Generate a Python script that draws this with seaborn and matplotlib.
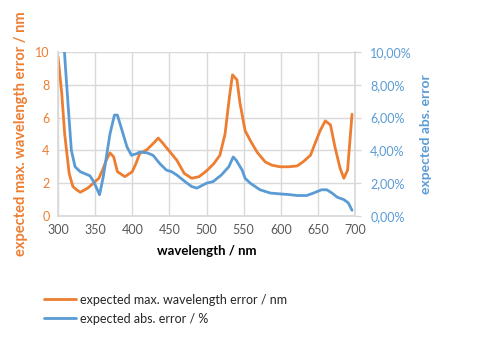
import matplotlib
matplotlib.use("Agg")
import matplotlib.pyplot as plt
import seaborn as sns
import pandas as pd

# orange series: expected max. wavelength error / nm
wl_err = [300, 305, 309, 315, 320, 325, 330, 340, 350, 355, 360, 365, 370, 375, 380, 390, 400,
          405, 410, 420, 430, 435, 440, 450, 460, 470, 480, 490, 500, 510, 518, 525, 531,
          535, 541, 545, 552, 559, 568, 579, 588, 599, 610, 622, 630, 640, 646, 653, 660,
          667, 673, 680, 685, 690, 696]
err_nm = [9.7, 7.5, 5.0, 2.6, 1.8, 1.6, 1.45, 1.7, 2.1, 2.3, 2.8, 3.4, 3.85, 3.6, 2.7, 2.4, 2.7,
          3.2, 3.8, 4.05, 4.5, 4.75, 4.5, 3.95, 3.4, 2.6, 2.3, 2.4, 2.75, 3.2, 3.7, 5.0, 7.3,
          8.6, 8.3, 6.9, 5.2, 4.6, 3.9, 3.3, 3.1, 3.0, 3.0, 3.05, 3.3, 3.7, 4.4, 5.2, 5.8,
          5.55, 4.2, 2.9, 2.3, 2.8, 6.2]

# blue series: expected abs. error / %
wl_abs = [300, 310, 314, 318, 323, 330, 343, 348, 356, 361, 370, 376, 380, 386, 393, 399, 406,
          410, 420, 428, 437, 446, 453, 460, 471, 480, 487, 500, 509, 520, 530, 536, 540,
          548, 552, 559, 572, 586, 599, 613, 622, 635, 644, 655, 662, 669, 676, 685, 691, 696]
abs_pct = [16.0, 9.1, 6.5, 4.0, 3.0, 2.7, 2.45, 2.1, 1.3, 2.4, 5.0, 6.15, 6.15, 5.25, 4.2, 3.7, 3.8,
           3.9, 3.85, 3.7, 3.2, 2.8, 2.7, 2.5, 2.1, 1.8, 1.7, 2.0, 2.1, 2.5, 3.0, 3.6, 3.4,
           2.8, 2.3, 2.0, 1.6, 1.4, 1.35, 1.3, 1.25, 1.25, 1.4, 1.6, 1.6, 1.4, 1.15, 1.0, 0.8, 0.35]

err_label = "expected max. wavelength error / nm"
abs_label = "expected abs. error / %"

orange = "#ED7D31"
blue = "#5B9BD5"
grid_col = "#D9D9D9"

sns.set_theme(style="white")
plt.rcParams["font.family"] = ["Lato", "DejaVu Sans"]

df_err = pd.DataFrame({"wl": wl_err, "val": err_nm})
df_abs = pd.DataFrame({"wl": wl_abs, "val": abs_pct})

fig = plt.figure(figsize=(5.0, 3.53), dpi=100)
ax = fig.add_axes([0.116, 0.388, 0.594, 0.465])
ax2 = ax.twinx()

sns.lineplot(data=df_err, x="wl", y="val", ax=ax, color=orange, lw=2, label=err_label, legend=False)
sns.lineplot(data=df_abs, x="wl", y="val", ax=ax2, color=blue, lw=2, label=abs_label, legend=False)

ax.set_xlim(300, 700)
ax.set_ylim(0, 10)
ax2.set_ylim(0, 10)
ax.set_xticks(range(300, 701, 50))
ax.set_yticks(range(0, 11, 2))
ax2.set_yticks(range(0, 11, 2))
ax2.set_yticklabels([f"{v},00%" for v in range(0, 11, 2)])

ax.grid(True, color=grid_col, lw=1)
ax.set_axisbelow(True)

for a in (ax, ax2):
    for s in a.spines.values():
        s.set_visible(False)
ax.spines["left"].set_visible(True)
ax.spines["left"].set_color(grid_col)
ax.spines["bottom"].set_visible(True)
ax.spines["bottom"].set_color(grid_col)
ax2.spines["right"].set_visible(True)
ax2.spines["right"].set_color(grid_col)

ax.tick_params(axis="x", labelsize=9, colors="#595959", length=0, pad=6)
ax.tick_params(axis="y", labelsize=9, colors=orange, length=0, pad=6)
ax2.tick_params(axis="y", labelsize=9, colors=grid_col, labelcolor=blue, length=4, width=1, pad=7)

ax.set_xlabel("wavelength / nm", fontsize=9.5, fontweight="bold", color="black", labelpad=6)
ax.set_ylabel("expected max. wavelength error / nm", fontsize=10.5, fontweight="bold", color=orange, labelpad=5)
ax2.set_ylabel("expected abs. error", fontsize=10, fontweight="bold", color=blue, labelpad=6)

handles = ax.get_lines()[:1] + ax2.get_lines()[:1]
fig.legend(handles, [err_label, abs_label], loc="upper left", bbox_to_anchor=(0.065, 0.2),
           frameon=False, fontsize=9, handlelength=2.6, handletextpad=0.3, labelspacing=0.55)

fig.savefig("out.png", dpi=100)
